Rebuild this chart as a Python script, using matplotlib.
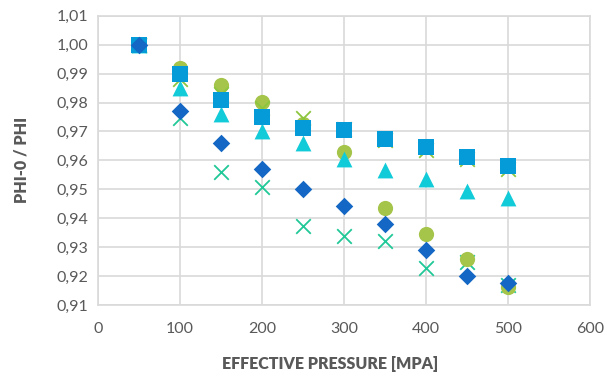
import matplotlib
matplotlib.use('Agg')
import matplotlib.pyplot as plt
from matplotlib.ticker import FuncFormatter, MultipleLocator

plt.rcParams['font.family'] = ['Lato', 'DejaVu Sans']

pressure = [50, 100, 150, 200, 250, 300, 350, 400, 450, 500]

teal_x = [1.000, 0.9747, 0.9560, 0.9507, 0.9375, 0.9338, 0.9323, 0.9229, 0.9250, 0.9170]
circles = [1.000, 0.9919, 0.9859, 0.9803, 0.9725, 0.9628, 0.9436, 0.9346, 0.9258, 0.9162]
green_x = [1.000, 0.9880, 0.9830, 0.9780, 0.9745, 0.9710, 0.9670, 0.9635, 0.9605, 0.9570]
triangles = [1.000, 0.9850, 0.9760, 0.9700, 0.9660, 0.9605, 0.9566, 0.9536, 0.9496, 0.9470]
squares = [1.000, 0.9900, 0.9810, 0.9750, 0.9712, 0.9706, 0.9675, 0.9645, 0.9612, 0.9582]
diamonds = [1.000, 0.9770, 0.9660, 0.9570, 0.9500, 0.9441, 0.9381, 0.9292, 0.9200, 0.9177]

x_ticks = [0, 100, 200, 300, 400, 500, 600]

fig = plt.figure(figsize=(6.07, 3.80), dpi=100)
ax = fig.add_axes([0.1614, 0.197, 0.8106, 0.7617])

ax.scatter(pressure, teal_x, marker='x', s=110, color='#20C997', linewidths=1.3, zorder=3)
ax.scatter(pressure, circles, marker='o', s=120, color='#A5C44A', linewidths=0, zorder=3)
ax.scatter(pressure, green_x, marker='x', s=110, color='#8CC63F', linewidths=1.3, zorder=3)
ax.scatter(pressure, triangles, marker='^', s=130, color='#12CBD8', linewidths=0, zorder=3)
ax.scatter(pressure, squares, marker='s', s=130, color='#059BD8', linewidths=0, zorder=3)
ax.scatter(pressure, diamonds, marker='D', s=80, color='#1467C4', linewidths=0, zorder=3)

ax.set_xlim(0, 600)
ax.set_ylim(0.91, 1.01)
ax.set_xticks(x_ticks)
ax.yaxis.set_major_locator(MultipleLocator(0.01))
ax.yaxis.set_major_formatter(FuncFormatter(lambda v, p: f"{v:.2f}".replace('.', ',')))

ax.grid(True, color='#D9D9D9', linewidth=1.2, zorder=0)
ax.set_axisbelow(True)
for sp in ax.spines.values():
    sp.set_color('#D9D9D9')
    sp.set_linewidth(1.2)
ax.tick_params(length=0, labelsize=11.5, colors='#595959')
ax.tick_params(axis='x', pad=12)
ax.tick_params(axis='y', pad=7)

ax.set_xlabel('EFFECTIVE PRESSURE [MPA]', fontsize=11.5, fontweight='heavy', color='#595959')
ax.set_ylabel('PHI-0 / PHI', fontsize=11.5, fontweight='heavy', color='#595959')
ax.xaxis.set_label_coords(0.4715, -0.176)
ax.yaxis.set_label_coords(-0.14, 0.5)

fig.savefig('out.png', dpi=100)
